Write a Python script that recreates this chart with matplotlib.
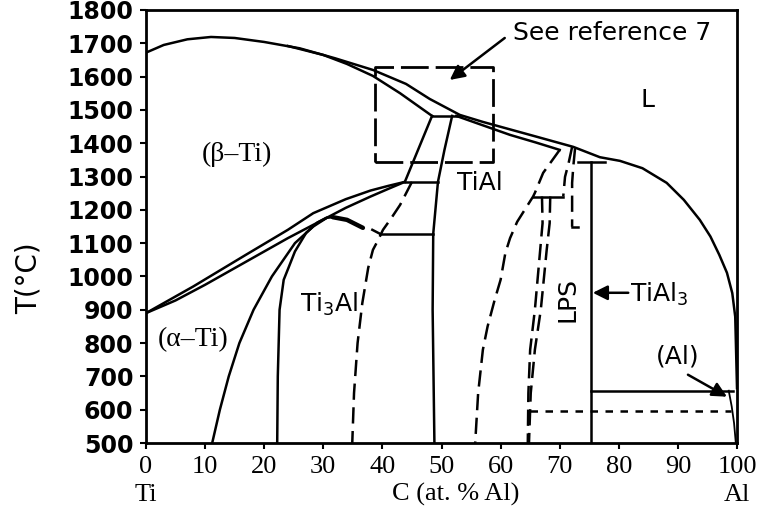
import matplotlib
matplotlib.use('Agg')
import matplotlib.pyplot as plt

# --- phase boundaries (x = at.% Al, T in degC) ---
liq_x = [0, 3, 7, 11, 15, 20, 26, 32, 38.4, 44, 48, 53.1, 57, 61.5, 66, 72.3, 76.8, 80.2,
         84, 88.1, 91, 93.7, 95.5, 97, 98.3, 99.2, 99.7, 100]
liq_t = [1672, 1695, 1712, 1719, 1716, 1704, 1685, 1655, 1620, 1578, 1533, 1485, 1464, 1442,
         1420, 1389, 1358, 1347, 1325, 1281, 1230, 1170, 1120, 1065, 1011, 950, 879, 665]

sol_b_x = [24, 30, 34, 38.4, 43, 48.4]
sol_b_t = [1692, 1665, 1638, 1602, 1550, 1482]

sol_a_x = [52.5, 56, 61.6, 66, 70]
sol_a_t = [1482, 1460, 1425, 1402, 1380]

bt_up_x = [0, 8, 16.9, 24, 28.3, 33.8, 38, 41, 43.8]
bt_up_t = [890, 970, 1065, 1140, 1190, 1232, 1258, 1272, 1284]
bt_lo_x = [0, 5, 10, 16.9, 24, 28.3, 33.8, 38, 41, 43.8]
bt_lo_t = [890, 928, 975, 1044, 1115, 1155, 1206, 1240, 1263, 1284]

a_x = [11.2, 12.5, 14, 15.8, 18.2, 21.3, 25.2, 28.3, 30.5]
a_t = [500, 600, 700, 800, 900, 1000, 1100, 1150, 1175]

a2_x = [22.2, 22.3, 22.6, 23.3, 24.2, 25.2, 27.1, 29, 30.5, 31.6]
a2_t = [500, 700, 900, 990, 1030, 1075, 1131, 1162, 1176, 1178]
a2_top_x = [31.6, 34, 36.7]
a2_top_t = [1178, 1170, 1146]

bb_x = [48.4, 43.8]          # beta side of peritectic down to 1284
bb_t = [1482, 1284]
tial_l_x = [51.8, 50.5, 49.4, 48.6, 48.5, 48.8]
tial_l_t = [1482, 1380, 1284, 1128, 900, 500]

adash_x = [45, 43, 41.5, 40.1, 39.3, 38.4, 37.6, 36.6, 35.8, 35.2, 34.9]
adash_t = [1284, 1215, 1175, 1140, 1110, 1080, 1026, 920, 800, 650, 500]

tial_r_x = [70, 67.2, 65.8, 65.5, 62.8, 61.6, 60.8, 60, 59, 57.8, 57, 56.2, 55.7]
tial_r_t = [1380, 1311, 1251, 1240, 1164, 1115, 1070, 990, 930, 850, 780, 650, 500]

pk_a_x = [72.1, 71.5, 70.9, 70.6]
pk_a_t = [1389, 1340, 1299, 1240]
pk_b_x = [72.6, 72.3, 72.1, 72.1]
pk_b_t = [1385, 1330, 1281, 1149]

c_x = [67.0, 67.1, 66.7, 65.8, 65.0, 64.7, 64.6]
c_t = [1240, 1160, 1080, 900, 780, 650, 500]
d_x = [68.4, 68.3, 67.8, 66.8, 65.8, 65.1, 64.8]
d_t = [1240, 1160, 1080, 900, 780, 650, 500]

al_sv_x = [98.6, 99.1, 99.5, 99.8]
al_sv_t = [657, 610, 560, 500]

# horizontal invariants: (x0, x1, T)
iso_solid = [(48.4, 53.1, 1482), (43.8, 49.4, 1284), (39.6, 48.6, 1128),
             (65.5, 70.6, 1240), (72.1, 73.1, 1149), (73.1, 77.7, 1344),
             (75.3, 99.3, 657)]
iso_dash = [(65.0, 99.0, 595)]
tial3_x = 75.3
tial3_t = [1344, 500]

box_x = [38.7, 58.7]
box_t = [1344, 1629]

xticks = list(range(0, 101, 10))
yticks = list(range(500, 1801, 100))

fig = plt.figure(figsize=(7.62, 5.15), dpi=100)
ax = fig.add_axes([0.1916, 0.1398, 0.7756, 0.8408])
lw = 1.8
k = 'black'
dsh = dict(color=k, lw=lw, dashes=[6.5, 3])

ax.plot(liq_x, liq_t, color=k, lw=lw)
ax.plot(sol_b_x, sol_b_t, color=k, lw=lw)
ax.plot(sol_a_x, sol_a_t, color=k, lw=lw)
ax.plot(bt_up_x, bt_up_t, color=k, lw=lw)
ax.plot(bt_lo_x, bt_lo_t, color=k, lw=lw)
ax.plot(a_x, a_t, color=k, lw=lw)
ax.plot(a2_x, a2_t, color=k, lw=lw)
ax.plot(a2_top_x, a2_top_t, color=k, lw=3.2, solid_capstyle='round')
ax.plot([38.3, 39.6], [1140, 1128], color=k, lw=lw)
ax.plot(bb_x, bb_t, color=k, lw=lw)
ax.plot(tial_l_x, tial_l_t, color=k, lw=lw)
ax.plot(adash_x, adash_t, **dsh)
ax.plot(tial_r_x, tial_r_t, **dsh)
ax.plot(pk_a_x, pk_a_t, **dsh)
ax.plot(pk_b_x, pk_b_t, **dsh)
ax.plot(c_x, c_t, **dsh)
ax.plot(d_x, d_t, **dsh)
ax.plot(al_sv_x, al_sv_t, color=k, lw=1.3)
for x0, x1, t in iso_solid:
    ax.plot([x0, x1], [t, t], color=k, lw=lw)
for x0, x1, t in iso_dash:
    ax.plot([x0, x1], [t, t], color=k, lw=lw, dashes=[3, 3])
ax.plot([tial3_x, tial3_x], tial3_t, color=k, lw=lw)

# dashed box around the peritectic
ax.plot([box_x[0], box_x[1], box_x[1], box_x[0], box_x[0]],
        [box_t[0], box_t[0], box_t[1], box_t[1], box_t[0]],
        color=k, lw=2, dashes=[10, 2.5])

ax.set_xlim(0, 100)
ax.set_ylim(500, 1800)
ax.set_xticks(xticks)
ax.set_yticks(yticks)
ax.set_xticklabels([str(v) for v in xticks], family='Liberation Serif', fontsize=19)
ax.set_yticklabels([str(v) for v in yticks], family='DejaVu Sans', fontweight='bold', fontsize=17)
ax.tick_params(direction='out', length=4, width=1.5, pad=5)
for s in ax.spines.values():
    s.set_linewidth(2)

sans = dict(family='DejaVu Sans', fontsize=18, color=k)
serif = dict(family='Liberation Serif', fontsize=20, color=k)
plt.rcParams['mathtext.default'] = 'regular'

ax.text(15.4, 1365, '(\u03b2\u2013Ti)', ha='center', va='center', **serif)
ax.text(7.9, 810, '(\u03b1\u2013Ti)', ha='center', va='center', **serif)
ax.text(31, 915, 'Ti$_3$Al', ha='center', va='center', **sans)
ax.text(56.5, 1281, 'TiAl', ha='center', va='center', **sans)
ax.text(84.8, 1530, 'L', ha='center', va='center', **sans)
ax.text(71.4, 930, 'LPS', ha='center', va='center', rotation=90, **sans)
ax.text(81.9, 945, 'TiAl$_3$', ha='left', va='center', **sans)
ax.text(90, 759, '(Al)', ha='center', va='center', **sans)
ax.text(62.1, 1732, 'See reference 7', ha='left', va='center', **sans)

arr = dict(arrowstyle='-|>', lw=lw, color=k, mutation_scale=22, shrinkA=0, shrinkB=0)
ax.annotate('', xy=(51.4, 1590), xytext=(60.7, 1716), arrowprops=arr)
ax.annotate('', xy=(75.6, 951), xytext=(81.6, 951), arrowprops=arr)
ax.annotate('', xy=(98.3, 639), xytext=(91.7, 705), arrowprops=arr)

fig.text(0.037, 0.46, 'T(\u00b0C)', rotation=90, ha='center', va='center',
         family='DejaVu Sans', fontsize=20)
fig.text(146 / 762, 0.039, 'Ti', ha='center', va='center', family='Liberation Serif', fontsize=19)
fig.text(456 / 762, 0.039, 'C (at. % Al)', ha='center', va='center', family='Liberation Serif', fontsize=19)
fig.text(737 / 762, 0.039, 'Al', ha='center', va='center', family='Liberation Serif', fontsize=19)

fig.savefig('out.png', dpi=100)
